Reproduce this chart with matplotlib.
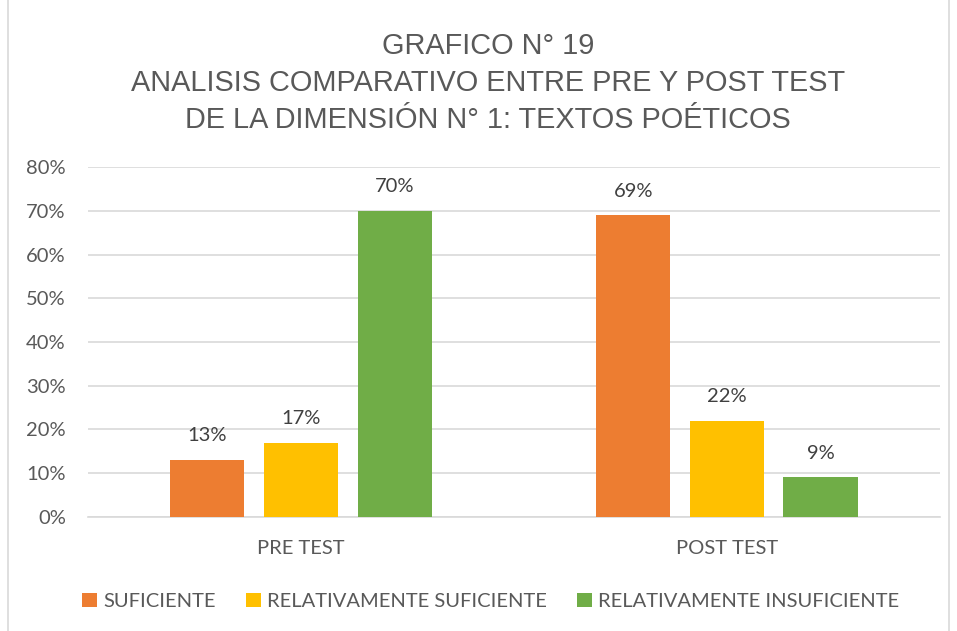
import numpy as np
import matplotlib.pyplot as plt
from matplotlib.patches import Rectangle

# data
categories = ["PRE TEST", "POST TEST"]
series_names = ["SUFICIENTE", "RELATIVAMENTE SUFICIENTE", "RELATIVAMENTE INSUFICIENTE"]
suficiente = [13, 69]
rel_suficiente = [17, 22]
rel_insuficiente = [70, 9]
colors = ["#ED7D31", "#FFC000", "#70AD47"]

title = "GRAFICO N° 19\nANALISIS COMPARATIVO ENTRE PRE Y POST TEST\nDE LA DIMENSIÓN N° 1: TEXTOS POÉTICOS"

fig = plt.figure(figsize=(9.57, 6.31), dpi=100)
ax = fig.add_axes([0.092, 0.181, 0.890, 0.554])

x = np.arange(len(categories))
width = 0.174
step = 0.22
label_font = ["Lato", "DejaVu Sans"]
fs = 14.5
for k, vals in enumerate([suficiente, rel_suficiente, rel_insuficiente]):
    pos = x + (k - 1) * step
    ax.bar(pos, vals, width, color=colors[k], label=series_names[k], zorder=3)
    for p, v in zip(pos, vals):
        ax.text(p, v + 3.6, f"{v}%", ha="center", va="bottom", fontsize=fs,
                color="#404040", family=label_font)

ax.set_xlim(-0.5, 1.5)
ax.set_ylim(0, 80)
ax.set_yticks(range(0, 81, 10))
ax.set_yticklabels([f"{t}%" for t in range(0, 81, 10)], family=label_font,
                   fontsize=fs, color="#595959")
ax.set_xticks(x)
ax.set_xticklabels(categories, family=label_font, fontsize=fs, color="#595959")
ax.tick_params(axis="both", length=0)
ax.tick_params(axis="x", pad=17)
ax.tick_params(axis="y", pad=16)
ax.grid(axis="y", color="#D9D9D9", linewidth=1.2, zorder=0)
for s in ["top", "right", "left"]:
    ax.spines[s].set_visible(False)
ax.spines["bottom"].set_color("#D9D9D9")
ax.spines["bottom"].set_linewidth(1.2)

fig.text(0.51, 0.868, title, ha="center", va="center", fontsize=20.8,
         color="#595959", family=["Liberation Sans Narrow", "Liberation Sans"],
         linespacing=1.4)

leg = fig.legend(loc="center", bbox_to_anchor=(0.513, 0.047), ncol=3, frameon=False,
                 prop={"family": "Lato", "size": fs}, handlelength=0.75,
                 handleheight=0.75, handletextpad=0.3, columnspacing=1.5)
for t in leg.get_texts():
    t.set_color("#595959")

fig.patches.append(Rectangle((0.008, -0.01), 0.984, 1.02, transform=fig.transFigure,
                             fill=False, edgecolor="#D9D9D9", linewidth=1.2))

plt.savefig("out.png")
